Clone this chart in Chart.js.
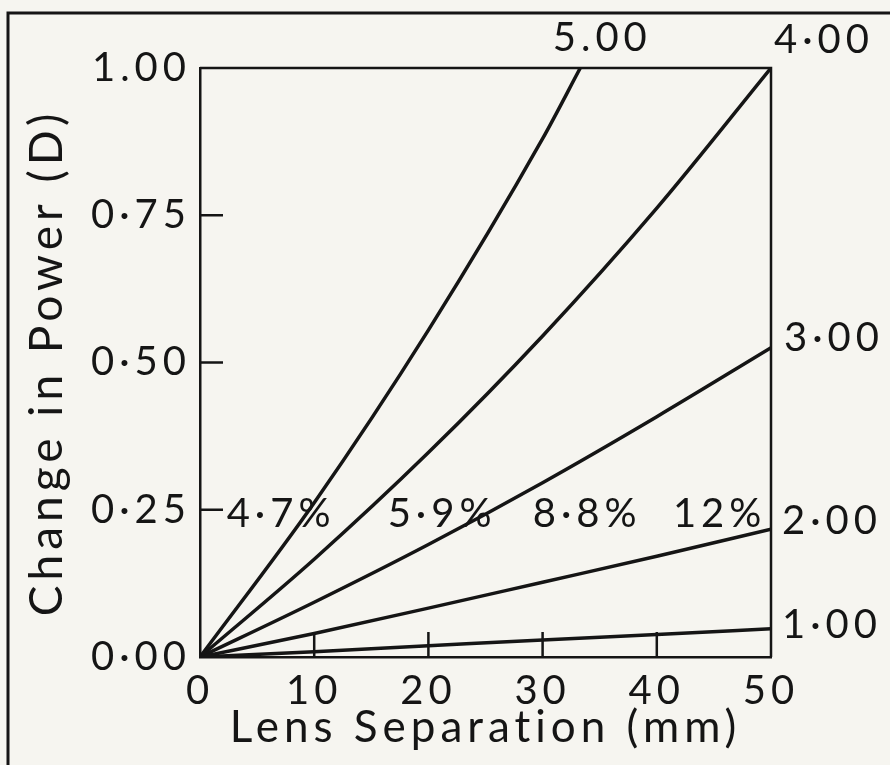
<!DOCTYPE html>
<html>
<head>
<meta charset="utf-8">
<script src="https://cdn.jsdelivr.net/npm/chart.js@4.4.1/dist/chart.umd.min.js"></script>
<style>
  html, body { margin: 0; padding: 0; background: #f6f5f0; }
  #wrap { width: 890px; height: 765px; position: relative; }
</style>
</head>
<body>
<div id="wrap"><canvas id="c"></canvas></div>
<script>
// values (lens separation in mm -> change in power in D)
const separationMm = [0, 10, 20, 30, 40, 50];
const power1D = [0, 0.009, 0.019, 0.029, 0.038, 0.048];
const power2D = [0, 0.040, 0.083, 0.127, 0.171, 0.217];
const power3D = [0, 0.093, 0.191, 0.296, 0.408, 0.525];
const power4D = [0, 0.166, 0.347, 0.545, 0.762, 1.0];
const separation5Mm = [0, 10, 20, 30, 33.3];
const power5D = [0, 0.262, 0.555, 0.880, 1.0];

const lensLabels = ['1·00', '2·00', '3·00', '4·00', '5.00'];
const percentLabels = ['4·7%', '5·9%', '8·8%', '12%'];
const yTickValues = [0, 0.25, 0.5, 0.75, 1];
const yTickLabels = ['0·00', '0·25', '0·50', '0·75', '1.00'];
const xTickLabels = ['0', '10', '20', '30', '40', '50'];

const FONT = 'Lato, "DejaVu Sans", sans-serif';
const INK = '#151515';
const SPACING = '5px';

function pts(xs, ys) { return xs.map((x, i) => ({ x, y: ys[i] })); }

function line(data) {
  return { data, borderColor: INK, borderWidth: 3.5, pointRadius: 0,
    cubicInterpolationMode: 'monotone', fill: false };
}

const decorations = {
  id: 'decorations',
  beforeDraw(chart) {
    chart.ctx.letterSpacing = SPACING;
  },
  afterDraw(chart) {
    const { ctx, chartArea: a, scales: { x, y } } = chart;
    ctx.save();
    ctx.strokeStyle = INK;
    ctx.lineWidth = 2.5;
    // top and right sides of the box
    ctx.beginPath();
    ctx.moveTo(a.left, a.top); ctx.lineTo(a.right, a.top); ctx.lineTo(a.right, a.bottom);
    ctx.stroke();
    // inward ticks
    ctx.beginPath();
    [0.25, 0.5, 0.75].forEach(v => {
      const py = y.getPixelForValue(v);
      ctx.moveTo(a.left, py); ctx.lineTo(a.left + 23, py);
    });
    [10, 20, 30, 40].forEach(v => {
      const px = x.getPixelForValue(v);
      ctx.moveTo(px, a.bottom); ctx.lineTo(px, a.bottom - 25);
    });
    ctx.stroke();
    // page frame
    ctx.lineWidth = 3;
    ctx.beginPath();
    ctx.moveTo(8, 765); ctx.lineTo(8, 13); ctx.lineTo(890, 13);
    ctx.stroke();

    // labels
    ctx.fillStyle = INK;
    ctx.font = '400 40px ' + FONT;
    ctx.letterSpacing = SPACING;
    ctx.textBaseline = 'middle';
    ctx.textAlign = 'left';
    const endY = [power1D[5], power2D[5], power3D[5]];
    ctx.fillText(lensLabels[0], a.right + 11, y.getPixelForValue(endY[0]) - 4);
    ctx.fillText(lensLabels[1], a.right + 11, y.getPixelForValue(endY[1]) - 8);
    ctx.fillText(lensLabels[2], a.right + 13, y.getPixelForValue(endY[2]) - 10);
    ctx.fillText(lensLabels[3], a.right + 3, a.top - 28);
    ctx.textAlign = 'center';
    ctx.fillText(lensLabels[4], x.getPixelForValue(33.3) + 22, a.top - 30);
    const pctX = [7.1, 21.2, 33.9, 45.5];
    percentLabels.forEach((t, i) => {
      ctx.fillText(t, x.getPixelForValue(pctX[i]), y.getPixelForValue(0.242));
    });
    ctx.restore();
  }
};

new Chart(document.getElementById('c'), {
  type: 'line',
  data: {
    datasets: [
      line(pts(separationMm, power1D)),
      line(pts(separationMm, power2D)),
      line(pts(separationMm, power3D)),
      line(pts(separationMm, power4D)),
      line(pts(separation5Mm, power5D)),
    ]
  },
  options: {
    responsive: true,
    maintainAspectRatio: false,
    animation: false,
    layout: { padding: { left: 0, top: 68, right: 119, bottom: 0 } },
    plugins: { legend: { display: false }, tooltip: { enabled: false } },
    scales: {
      x: {
        type: 'linear', min: 0, max: 50,
        afterFit: s => { s.height = 108; },
        afterBuildTicks: s => { s.ticks = separationMm.map(v => ({ value: v })); },
        ticks: {
          color: INK, padding: 10, maxRotation: 0, autoSkip: false,
          font: { family: FONT, size: 40, weight: 400 },
          callback: (v, i) => xTickLabels[i]
        },
        grid: { drawOnChartArea: false, drawTicks: false },
        border: { display: true, color: INK, width: 2.5 },
        title: {
          display: true, text: 'Lens Separation (mm)', color: INK,
          font: { family: FONT, size: 44, weight: 400 },
          padding: { top: 0, bottom: 11 }
        }
      },
      y: {
        type: 'linear', min: 0, max: 1,
        afterFit: s => { s.width = 200; },
        afterBuildTicks: s => { s.ticks = yTickValues.map(v => ({ value: v })); },
        ticks: {
          color: INK, padding: 9, autoSkip: false,
          font: { family: FONT, size: 40, weight: 400 },
          callback: (v, i) => yTickLabels[i]
        },
        grid: { drawOnChartArea: false, drawTicks: false },
        border: { display: true, color: INK, width: 2.5 },
        title: {
          display: true, text: 'Change in Power (D)', color: INK,
          font: { family: FONT, size: 46, weight: 400 },
          padding: { top: 20, bottom: 0 }
        }
      }
    }
  },
  plugins: [decorations]
});
</script>
</body>
</html>
